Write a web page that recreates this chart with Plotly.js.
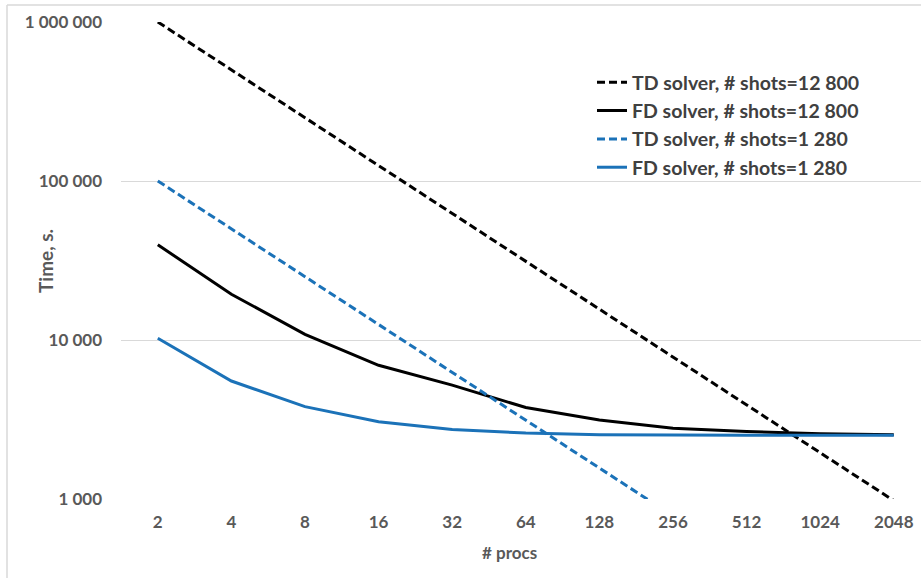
<!DOCTYPE html>
<html>
<head>
<meta charset="utf-8">
<script src="https://cdn.plot.ly/plotly-3.0.1.min.js"></script>
<style>html,body{margin:0;padding:0;background:#fff;}#chart{width:921px;height:578px;}</style>
</head>
<body>
<div id="chart"></div>
<script>
const procs = ["2","4","8","16","32","64","128","256","512","1024","2048"];
const tdShots12800 = [1000000,500000,250000,125000,62500,31250,15625,7812,3906,1953,977];
const fdShots12800 = [39700,19400,10850,6930,5200,3760,3140,2790,2660,2570,2540];
const tdShots1280 = [100000,50000,25000,12500,6250,3125,1562,781,391,195,98];
const fdShots1280 = [10250,5520,3810,3060,2740,2600,2540,2520,2520,2520,2520];
const names = ["TD solver, # shots=12 800","FD solver, # shots=12 800","TD solver, # shots=1 280","FD solver, # shots=1 280"];
const yTickVals = [1000,10000,100000,1000000];
const yTickText = ["1 000","10 000","100 000","1 000 000"];
const yTitle = "Time, s.";
const xTitle = "# procs";

const blue = "#1B72B8";
const dashStyle = "8px,4px";
const traces = [
  {x: procs, y: tdShots12800, name: names[0], mode: "lines", line: {color: "#000000", width: 3, dash: dashStyle}},
  {x: procs, y: fdShots12800, name: names[1], mode: "lines", line: {color: "#000000", width: 3}},
  {x: procs, y: tdShots1280, name: names[2], mode: "lines", line: {color: blue, width: 3, dash: dashStyle}},
  {x: procs, y: fdShots1280, name: names[3], mode: "lines", line: {color: blue, width: 3}}
];

const gray = "#595959";
const fontFam = "Lato, 'Open Sans', sans-serif";
const L = 121, W = 800, T = 22, H = 477;
function px(x){ return (x - L) / W; }
function py(y){ return 1 - (y - T) / H; }
const layout = {
  width: 921, height: 578,
  margin: {l: 121, r: 0, t: 22, b: 79},
  paper_bgcolor: "#ffffff", plot_bgcolor: "#ffffff",
  showlegend: true,
  legend: {
    x: px(592), y: py(63), xanchor: "left", yanchor: "top",
    font: {family: fontFam, size: 19.5, color: "#404040", weight: "bold"},
    bgcolor: "rgba(0,0,0,0)", tracegroupgap: 0, itemwidth: 30
  },
  xaxis: {
    type: "category", range: [-0.5, 10.37],
    showgrid: false, zeroline: false, showline: false, ticks: "",
    tickfont: {family: fontFam, size: 17, color: gray, weight: "bold"},
    ticklabelstandoff: 11
  },
  yaxis: {
    type: "log", range: [3, 6],
    tickvals: yTickVals, ticktext: yTickText,
    showgrid: true, gridcolor: "#d9d9d9", gridwidth: 1,
    zeroline: false, showline: false, ticks: "",
    tickfont: {family: fontFam, size: 17, color: gray, weight: "bold"},
    ticklabelstandoff: 18
  },
  annotations: [
    {text: yTitle, xref: "paper", yref: "paper", x: px(45), y: py(261), xanchor: "center", yanchor: "middle",
     textangle: -90, showarrow: false, font: {family: fontFam, size: 19, color: gray, weight: "bold"}},
    {text: xTitle, xref: "paper", yref: "paper", x: px(509), y: py(552), xanchor: "center", yanchor: "middle",
     showarrow: false, font: {family: fontFam, size: 17, color: gray, weight: "bold"}}
  ],
  shapes: [
    {type: "line", xref: "paper", yref: "paper", x0: px(7), x1: px(7), y0: py(5), y1: py(578), line: {color: "#d9d9d9", width: 1.5}},
    {type: "line", xref: "paper", yref: "paper", x0: px(7), x1: 1.1, y0: py(5), y1: py(5), line: {color: "#d9d9d9", width: 1.5}}
  ]
};
Plotly.newPlot("chart", traces, layout, {displayModeBar: false, staticPlot: true});
</script>
</body>
</html>
